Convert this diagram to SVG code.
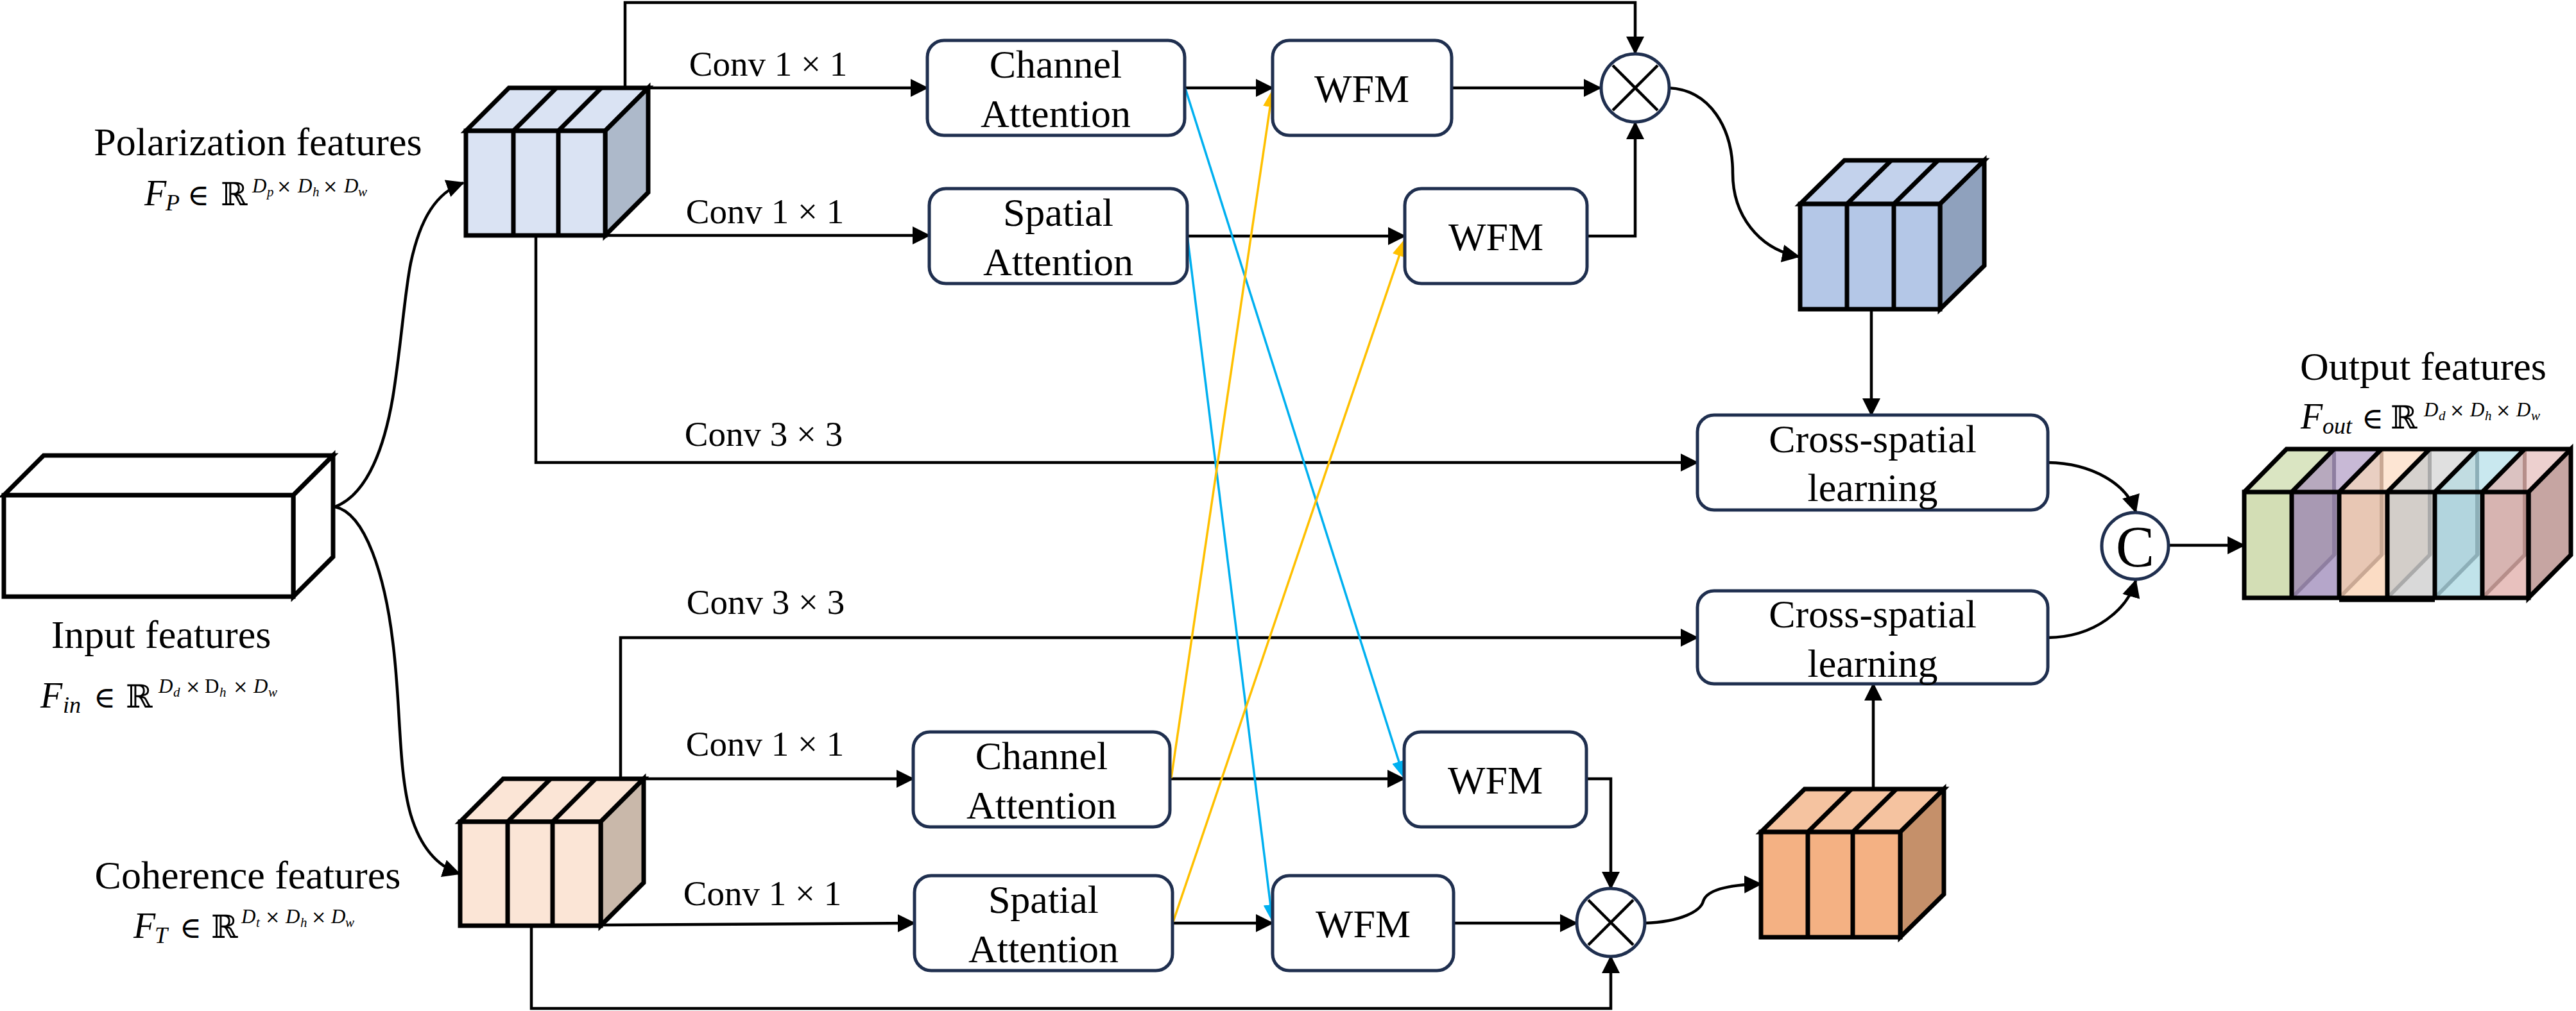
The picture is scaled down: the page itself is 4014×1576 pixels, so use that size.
<svg xmlns="http://www.w3.org/2000/svg" width="4014" height="1576" viewBox="0 0 4014 1576">
<defs>
<style>
.t{font-family:"Liberation Serif","Times New Roman",serif;fill:#000}
.lbl{font-size:62px}
.box-t{font-size:62px;text-anchor:middle}
.conv{font-size:55px;text-anchor:middle}
.it{font-style:italic}
.sym{font-family:"DejaVu Serif","Liberation Serif",serif;font-style:normal}
.x{font-family:"DejaVu Serif","Liberation Serif",serif;font-style:normal;font-size:28px}
.box{fill:#fff;stroke:#1F2F4F;stroke-width:5}
.cube{stroke:#000;stroke-width:7;stroke-linejoin:miter}
.div{stroke:#000;stroke-width:7;fill:none}
.ln{fill:none;stroke:#000;stroke-width:4.5}
.blue{fill:none;stroke:#00B0F0;stroke-width:3.5}
.orange{fill:none;stroke:#FFC000;stroke-width:3.5}
.circ{fill:#fff;stroke:#1F2F4F;stroke-width:5}
</style>
<marker id="ah" viewBox="0 0 28 28" refX="26" refY="14" markerWidth="28" markerHeight="28" orient="auto" markerUnits="userSpaceOnUse"><path d="M0,0 L28,14 L0,28 z" fill="#000"/></marker>
<marker id="ahb" viewBox="0 0 28 22" refX="27" refY="11" markerWidth="28" markerHeight="22" orient="auto" markerUnits="userSpaceOnUse"><path d="M0,0 L28,11 L0,22 z" fill="#00B0F0"/></marker>
<marker id="aho" viewBox="0 0 28 22" refX="27" refY="11" markerWidth="28" markerHeight="22" orient="auto" markerUnits="userSpaceOnUse"><path d="M0,0 L28,11 L0,22 z" fill="#FFC000"/></marker>
</defs>
<rect width="4014" height="1576" fill="#fff"/>

<g id="connectors">
<path class="ln" d="M522,790 C575,770 600,690 612,620 C625,540 630,460 640,410 C655,340 680,300 722,285" marker-end="url(#ah)"/>
<path class="ln" d="M522,790 C570,800 600,900 612,1000 C625,1100 620,1200 640,1270 C655,1320 680,1350 716,1362" marker-end="url(#ah)"/>
<path class="ln" d="M974,137 V4 H2548 V83" marker-end="url(#ah)"/>
<path class="ln" d="M1010,137 H1445" marker-end="url(#ah)"/>
<path class="ln" d="M943,367 H1448" marker-end="url(#ah)"/>
<path class="ln" d="M835,367 V721 H2645" marker-end="url(#ah)"/>
<path class="ln" d="M1846,137 H1983" marker-end="url(#ah)"/>
<path class="ln" d="M2262,137 H2494" marker-end="url(#ah)"/>
<path class="ln" d="M1850,368 H2189" marker-end="url(#ah)"/>
<path class="ln" d="M2473,368 H2548 V191" marker-end="url(#ah)"/>
<path class="ln" d="M2600,137 C2665,140 2700,200 2700,270 C2700,335 2740,388 2803,400" marker-end="url(#ah)"/>
<path class="ln" d="M2916,482 V647" marker-end="url(#ah)"/>
<path class="ln" d="M3191,721 C3260,722 3315,755 3328,798" marker-end="url(#ah)"/>
<path class="ln" d="M3191,994 C3265,993 3315,950 3328,905" marker-end="url(#ah)"/>
<path class="ln" d="M3379,850 H3497" marker-end="url(#ah)"/>
<path class="ln" d="M967,1214 V994 H2645" marker-end="url(#ah)"/>
<path class="ln" d="M1003,1214 H1423" marker-end="url(#ah)"/>
<path class="ln" d="M936,1442 L1425,1439" marker-end="url(#ah)"/>
<path class="ln" d="M828,1443 V1572 H2510 V1491" marker-end="url(#ah)"/>
<path class="ln" d="M1823,1214 H2188" marker-end="url(#ah)"/>
<path class="ln" d="M1827,1439 H1983" marker-end="url(#ah)"/>
<path class="ln" d="M2472,1214 H2510 V1385" marker-end="url(#ah)"/>
<path class="ln" d="M2265,1439 H2457" marker-end="url(#ah)"/>
<path class="ln" d="M2563,1439 C2620,1437 2650,1420 2654,1405 C2660,1385 2700,1379 2744,1378" marker-end="url(#ah)"/>
<path class="ln" d="M2919,1230 V1066" marker-end="url(#ah)"/>
<path class="blue" d="M1847,138 L2188,1213" marker-end="url(#ahb)"/>
<path class="blue" d="M1850,367 L1983,1437" marker-end="url(#ahb)"/>
<path class="orange" d="M1825,1213 L1983,140" marker-end="url(#aho)"/>
<path class="orange" d="M1828,1437 L2189,373" marker-end="url(#aho)"/>
<text class="t conv" x="1197" y="118">Conv 1 × 1</text>
<text class="t conv" x="1192" y="348">Conv 1 × 1</text>
<text class="t conv" x="1190" y="695">Conv 3 × 3</text>
<text class="t conv" x="1193" y="957">Conv 3 × 3</text>
<text class="t conv" x="1192" y="1178">Conv 1 × 1</text>
<text class="t conv" x="1188" y="1411">Conv 1 × 1</text>
</g>

<g id="input-features">
<polygon class="cube" fill="#fff" points="6,772 68,710 519,710 457,772"/>
<polygon class="cube" fill="#fff" points="457,772 519,710 519,868 457,930"/>
<rect class="cube" fill="#fff" x="6" y="772" width="451" height="158"/>
<text class="t lbl" x="251" y="1010" text-anchor="middle">Input features</text>
<text class="t" y="1103" font-size="56"><tspan class="it" x="63">F</tspan><tspan class="it" x="98" y="1111" font-size="36">in</tspan><tspan class="sym" x="146" y="1103" font-size="46">∈</tspan><tspan class="sym" x="196" font-size="50">ℝ</tspan><tspan class="it" x="247" y="1080" font-size="31">D</tspan><tspan class="it" x="270" y="1086" font-size="21">d</tspan><tspan class="x" x="289" y="1080">×</tspan><tspan x="319" font-size="31">D</tspan><tspan class="it" x="342" y="1086" font-size="21">h</tspan><tspan class="x" x="363" y="1080">×</tspan><tspan class="it" x="395" font-size="31">D</tspan><tspan class="it" x="418" y="1086" font-size="21">w</tspan></text>
</g>

<g id="polarization-features">
<polygon class="cube" fill="#DAE3F3" points="726,204 793,137 1010,137 943,204"/>
<polygon class="cube" fill="#ADB9CA" points="943,204 1010,137 1010,300 943,367"/>
<rect class="cube" fill="#DAE3F3" x="726" y="204" width="217" height="163"/>
<path class="div" d="M800,204 V367 M870,204 V367 M800,204 L867,137 M870,204 L937,137"/>
<text class="t lbl" x="402" y="242" text-anchor="middle">Polarization features</text>
<text class="t" y="320" font-size="56"><tspan class="it" x="225">F</tspan><tspan class="it" x="258" y="328" font-size="36">P</tspan><tspan class="sym" x="292" y="320" font-size="46">∈</tspan><tspan class="sym" x="344" font-size="50">ℝ</tspan><tspan class="it" x="393" y="300" font-size="31">D</tspan><tspan class="it" x="416" y="306" font-size="21">p</tspan><tspan class="x" x="431" y="300">×</tspan><tspan class="it" x="464" font-size="31">D</tspan><tspan class="it" x="487" y="306" font-size="21">h</tspan><tspan class="x" x="503" y="300">×</tspan><tspan class="it" x="536" font-size="31">D</tspan><tspan class="it" x="558" y="306" font-size="21">w</tspan></text>
</g>

<g id="coherence-features">
<polygon class="cube" fill="#FBE5D6" points="717,1281 784,1214 1003,1214 936,1281"/>
<polygon class="cube" fill="#C9B8AA" points="936,1281 1003,1214 1003,1376 936,1443"/>
<rect class="cube" fill="#FBE5D6" x="717" y="1281" width="219" height="162"/>
<path class="div" d="M791,1281 V1443 M861,1281 V1443 M791,1281 L858,1214 M861,1281 L928,1214"/>
<text class="t lbl" x="386" y="1385" text-anchor="middle">Coherence features</text>
<text class="t" y="1462" font-size="56"><tspan class="it" x="208">F</tspan><tspan class="it" x="241" y="1470" font-size="36">T</tspan><tspan class="sym" x="280" y="1462" font-size="46">∈</tspan><tspan class="sym" x="329" font-size="50">ℝ</tspan><tspan class="it" x="376" y="1439" font-size="31">D</tspan><tspan class="it" x="399" y="1445" font-size="21">t</tspan><tspan class="x" x="413" y="1439">×</tspan><tspan class="it" x="445" font-size="31">D</tspan><tspan class="it" x="468" y="1445" font-size="21">h</tspan><tspan class="x" x="485" y="1439">×</tspan><tspan class="it" x="516" font-size="31">D</tspan><tspan class="it" x="538" y="1445" font-size="21">w</tspan></text>
</g>

<g id="channel-attention-top">
<rect class="box" x="1445" y="63" width="401" height="148" rx="26"/>
<text class="t box-t" x="1645" y="121">Channel</text>
<text class="t box-t" x="1645" y="198">Attention</text>
</g>
<g id="spatial-attention-top">
<rect class="box" x="1448" y="294" width="402" height="148" rx="26"/>
<text class="t box-t" x="1649" y="352">Spatial</text>
<text class="t box-t" x="1649" y="429">Attention</text>
</g>
<g id="wfm-top-1">
<rect class="box" x="1983" y="63" width="279" height="148" rx="26"/>
<text class="t box-t" x="2122" y="159">WFM</text>
</g>
<g id="wfm-top-2">
<rect class="box" x="2189" y="294" width="284" height="148" rx="26"/>
<text class="t box-t" x="2331" y="390">WFM</text>
</g>
<g id="multiply-top">
<circle class="circ" cx="2548" cy="137" r="53"/>
<path class="ln" d="M2513,102 L2583,172 M2583,102 L2513,172"/>
</g>
<g id="enhanced-polarization">
<polygon class="cube" fill="#C3D2EC" points="2805,318 2874,250 3092,250 3023,318"/>
<polygon class="cube" fill="#8FA1BD" points="3023,318 3092,250 3092,414 3023,482"/>
<rect class="cube" fill="#B4C7E7" x="2805" y="318" width="218" height="164"/>
<path class="div" d="M2878,318 V482 M2951,318 V482 M2878,318 L2947,250 M2951,318 L3020,250"/>
</g>
<g id="cross-spatial-top">
<rect class="box" x="2645" y="647" width="546" height="148" rx="26"/>
<text class="t box-t" x="2918" y="705">Cross-spatial</text>
<text class="t box-t" x="2918" y="781">learning</text>
</g>
<g id="cross-spatial-bottom">
<rect class="box" x="2645" y="921" width="546" height="145" rx="26"/>
<text class="t box-t" x="2918" y="978">Cross-spatial</text>
<text class="t box-t" x="2918" y="1055">learning</text>
</g>
<g id="concat">
<circle class="circ" cx="3327" cy="851" r="52"/>
<text class="t" x="3327" y="883" font-size="90" text-anchor="middle">C</text>
</g>

<g id="channel-attention-bottom">
<rect class="box" x="1423" y="1141" width="400" height="148" rx="26"/>
<text class="t box-t" x="1623" y="1199">Channel</text>
<text class="t box-t" x="1623" y="1276">Attention</text>
</g>
<g id="spatial-attention-bottom">
<rect class="box" x="1425" y="1365" width="402" height="148" rx="26"/>
<text class="t box-t" x="1626" y="1423">Spatial</text>
<text class="t box-t" x="1626" y="1500">Attention</text>
</g>
<g id="wfm-bottom-1">
<rect class="box" x="2188" y="1141" width="284" height="148" rx="26"/>
<text class="t box-t" x="2330" y="1237">WFM</text>
</g>
<g id="wfm-bottom-2">
<rect class="box" x="1983" y="1365" width="282" height="148" rx="26"/>
<text class="t box-t" x="2124" y="1461">WFM</text>
</g>
<g id="multiply-bottom">
<circle class="circ" cx="2510" cy="1438" r="53"/>
<path class="ln" d="M2475,1403 L2545,1473 M2545,1403 L2475,1473"/>
</g>
<g id="enhanced-coherence">
<polygon class="cube" fill="#F5C3A0" points="2744,1297 2812,1230 3029,1230 2961,1297"/>
<polygon class="cube" fill="#C5906A" points="2961,1297 3029,1230 3029,1394 2961,1461"/>
<rect class="cube" fill="#F4B183" x="2744" y="1297" width="217" height="164"/>
<path class="div" d="M2817,1297 V1461 M2887,1297 V1461 M2817,1297 L2885,1230 M2887,1297 L2955,1230"/>
</g>

<g id="output-features">
<text class="t lbl" x="3776" y="592" text-anchor="middle">Output features</text>
<text class="t" y="668" font-size="56"><tspan class="it" x="3585">F</tspan><tspan class="it" x="3619" y="676" font-size="36">out</tspan><tspan class="sym" x="3680" y="668" font-size="46">∈</tspan><tspan class="sym" x="3725" font-size="50">ℝ</tspan><tspan class="it" x="3777" y="649" font-size="31">D</tspan><tspan class="it" x="3800" y="655" font-size="21">d</tspan><tspan class="x" x="3817" y="649">×</tspan><tspan class="it" x="3849" font-size="31">D</tspan><tspan class="it" x="3872" y="655" font-size="21">h</tspan><tspan class="x" x="3889" y="649">×</tspan><tspan class="it" x="3921" font-size="31">D</tspan><tspan class="it" x="3944" y="655" font-size="21">w</tspan></text>
<!-- slice 1 green -->
<polygon fill="#DAE5C2" points="3497,767 3563,700 3637,700 3571,767"/>
<rect fill="#D3DEB5" x="3497" y="767" width="74" height="165"/>
<!-- slice 2 purple -->
<polygon fill="#C8B9D6" points="3571,767 3637,700 3711,700 3645,767"/>
<polygon fill="#B7A9BE" points="3571,767 3637,700 3637,767"/>
<rect fill="#B5A6CA" x="3571" y="767" width="74" height="165"/>
<polygon fill="#A899B3" points="3571,767 3645,767 3645,865 3637,865 3571,932"/>
<path d="M3571,932 L3637,865 V700" fill="none" stroke="#8E7EA0" stroke-width="6"/>
<!-- slice 3 peach -->
<polygon fill="#FDE5D3" points="3645,767 3711,700 3786,700 3720,767"/>
<polygon fill="#E9CFC2" points="3645,767 3711,700 3711,767"/>
<rect fill="#FBDCC4" x="3645" y="767" width="75" height="165"/>
<polygon fill="#E8C7B4" points="3645,767 3720,767 3720,865 3711,865 3645,932"/>
<path d="M3645,932 L3711,865 V700" fill="none" stroke="#C9A894" stroke-width="6"/>
<!-- slice 4 gray -->
<polygon fill="#E0E0E0" points="3720,767 3786,700 3860,700 3794,767"/>
<polygon fill="#D6D2CE" points="3720,767 3786,700 3786,767"/>
<rect fill="#D9D9D9" x="3720" y="767" width="74" height="165"/>
<polygon fill="#D3CEC9" points="3720,767 3794,767 3794,865 3786,865 3720,932"/>
<path d="M3720,932 L3786,865 V700" fill="none" stroke="#AAAAAA" stroke-width="6"/>
<!-- slice 5 blue -->
<polygon fill="#C9E8EF" points="3794,767 3860,700 3934,700 3868,767"/>
<polygon fill="#C1DCE1" points="3794,767 3860,700 3860,767"/>
<rect fill="#C0E3EA" x="3794" y="767" width="74" height="165"/>
<polygon fill="#B2D5DE" points="3794,767 3868,767 3868,865 3860,865 3794,932"/>
<path d="M3794,932 L3860,865 V700" fill="none" stroke="#8DAFB8" stroke-width="6"/>
<!-- slice 6 pink -->
<polygon fill="#EDD0CF" points="3868,767 3934,700 4006,700 3940,767"/>
<polygon fill="#DBC2C1" points="3868,767 3934,700 3934,767"/>
<rect fill="#E8C1BE" x="3868" y="767" width="72" height="165"/>
<polygon fill="#D7B4B1" points="3868,767 3940,767 3940,865 3934,865 3868,932"/>
<path d="M3868,932 L3934,865 V700" fill="none" stroke="#B68E8A" stroke-width="6"/>
<polygon class="cube" fill="#C6A5A2" points="3940,767 4006,700 4006,865 3940,932"/>
<!-- outlines -->
<path fill="none" stroke="#000" stroke-width="7" stroke-linejoin="miter" d="M3497,767 L3563,700 H4006 M3571,767 L3637,700 M3645,767 L3711,700 M3720,767 L3786,700 M3794,767 L3860,700 M3868,767 L3934,700"/>
<path fill="none" stroke="#000" stroke-width="7" d="M3497,767 H3940 V932 H3497 Z M3571,767 V932 M3645,767 V935 M3720,767 V935 M3794,767 V935 M3868,767 V932 M3645,935 H3794"/>
</g>
</svg>
